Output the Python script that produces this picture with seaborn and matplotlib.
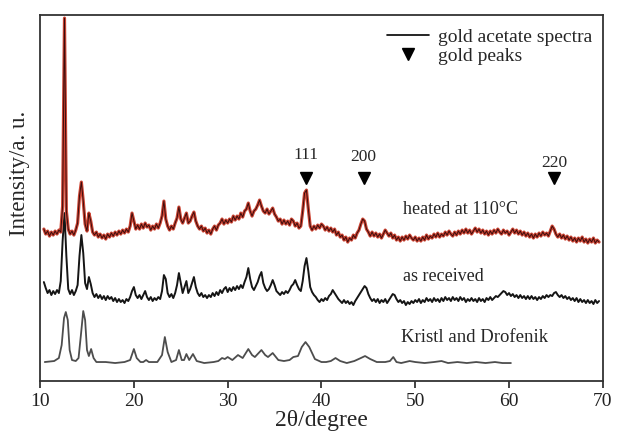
import numpy as np
import pandas as pd
import matplotlib
matplotlib.use("Agg")
import matplotlib.pyplot as plt
from matplotlib.lines import Line2D
import seaborn as sns

sns.set_style("ticks")
plt.rcParams['font.family'] = ['Liberation Serif', 'DejaVu Serif']
plt.rcParams['mathtext.fontset'] = 'stix'

# scan grid of the two measured patterns, 0.2 degree step
two_theta = np.linspace(10.4, 69.6, 297)

# heated at 110 C (one row = 2 degrees)
heated = [
    152, 147, 150, 145, 149, 146, 150, 147, 151, 149,
    175, 363, 170, 152, 147, 150, 146, 151, 158, 185,
    199, 180, 157, 150, 168, 160, 149, 146, 149, 144,
    147, 143, 146, 142, 147, 144, 148, 145, 149, 146,
    150, 147, 151, 148, 152, 149, 155, 168, 160, 152,
    156, 152, 157, 153, 158, 154, 156, 151, 155, 152,
    157, 153, 158, 165, 180, 162, 155, 151, 155, 152,
    158, 163, 174, 162, 158, 163, 168, 158, 160, 165,
    169, 160, 155, 152, 155, 150, 153, 148, 151, 147,
    152, 155, 151, 156, 158, 162, 157, 161, 158, 162,
    159, 165, 161, 165, 162, 168, 164, 170, 172, 178,
    170, 165, 170, 172, 176, 181, 175, 170, 168, 172,
    167, 170, 173, 167, 164, 160, 162, 157, 161, 157,
    160, 156, 162, 160, 155, 158, 153, 155, 170, 188,
    191, 172, 155, 151, 155, 152, 156, 153, 157, 155,
    151, 154, 150, 153, 149, 152, 146, 149, 144, 146,
    141, 144, 139, 143, 141, 146, 143, 148, 151, 157,
    162, 160, 152, 149, 145, 149, 145, 148, 144, 147,
    143, 147, 151, 148, 145, 148, 143, 146, 141, 144,
    140, 144, 141, 145, 142, 146, 143, 141, 144, 140,
    143, 140, 144, 141, 146, 142, 145, 143, 147, 144,
    148, 144, 147, 145, 149, 146, 150, 147, 145, 149,
    146, 150, 147, 151, 148, 152, 148, 151, 147, 150,
    153, 149, 152, 148, 151, 147, 150, 146, 150, 147,
    151, 148, 152, 149, 147, 151, 148, 150, 146, 149,
    152, 148, 151, 147, 150, 146, 149, 145, 148, 144,
    147, 143, 147, 144, 148, 145, 149, 146, 148, 145,
    150, 155, 152, 147, 144, 147, 143, 146, 142, 145,
    141, 144, 140, 143, 139, 143, 140, 144, 139, 142,
    138, 142, 139, 143, 138, 141, 139,
]

# as received
received = [
    99, 93, 88, 91, 86, 90, 87, 91, 88, 100,
    140, 168, 125, 92, 87, 91, 86, 90, 96, 125,
    146, 128, 98, 92, 104, 97, 88, 84, 87, 83,
    86, 82, 85, 81, 85, 82, 84, 80, 83, 79,
    82, 79, 81, 78, 82, 80, 84, 90, 94, 86,
    83, 86, 82, 86, 90, 84, 81, 84, 80, 83,
    81, 84, 82, 90, 106, 102, 88, 84, 87, 83,
    88, 96, 108, 98, 88, 94, 100, 88, 92, 98,
    104, 94, 88, 85, 88, 84, 86, 83, 86, 84,
    88, 85, 89, 86, 91, 88, 92, 94, 89, 93,
    90, 94, 91, 95, 92, 96, 93, 99, 104, 113,
    102, 94, 91, 95, 99, 105, 109, 98, 93, 90,
    92, 96, 101, 96, 90, 88, 86, 89, 87, 90,
    88, 91, 95, 97, 101, 96, 92, 90, 100, 115,
    123, 110, 94, 89, 86, 84, 81, 79, 82, 80,
    83, 81, 85, 87, 91, 88, 85, 82, 80, 78,
    81, 78, 80, 77, 79, 76, 80, 83, 86, 89,
    92, 95, 93, 87, 83, 80, 82, 79, 82, 78,
    81, 79, 82, 78, 81, 84, 87, 86, 82, 79,
    81, 78, 80, 76, 79, 77, 80, 78, 81, 79,
    82, 78, 81, 79, 83, 80, 82, 79, 83, 80,
    82, 79, 83, 80, 84, 81, 83, 80, 84, 81,
    83, 80, 84, 81, 83, 79, 82, 80, 83, 80,
    82, 79, 83, 80, 82, 79, 83, 81, 84, 81,
    83, 85, 84, 86, 88, 90, 89, 86, 88, 85,
    87, 84, 86, 83, 86, 83, 85, 82, 85, 82,
    85, 82, 84, 81, 84, 82, 85, 83, 86, 84,
    86, 85, 88, 89, 86, 84, 86, 83, 85, 82,
    84, 81, 83, 80, 83, 79, 82, 79, 81, 78,
    81, 78, 80, 77, 81, 78, 80,
]

# reference pattern (Kristl and Drofenik)
kd_theta = [10.5, 11.5, 12.0, 12.3, 12.55, 12.74, 12.95, 13.15, 13.4, 13.8,
            14.1, 14.35, 14.6, 14.8, 15.0, 15.2, 15.44, 15.7, 16.0, 17.0,
            18.0, 19.0, 19.6, 20.0, 20.3, 20.7, 21.0, 21.3, 21.6, 22.5,
            23.0, 23.3, 23.6, 24.0, 24.5, 24.8, 25.1, 25.35, 25.6, 25.9,
            26.3, 26.7, 27.5, 28.5, 29.0, 29.4, 29.7, 30.0, 30.5, 31.1,
            31.6, 32.2, 32.6, 32.9, 33.3, 33.6, 34.0, 34.3, 34.8, 35.4,
            36.0, 36.6, 37.0, 37.5, 37.9, 38.3, 38.7, 39.3, 40.0, 40.5,
            41.0, 41.5, 42.0, 42.7, 43.5, 44.2, 44.65, 45.2, 45.9, 46.8,
            47.3, 47.66, 48.0, 48.5, 49.4, 50.0, 51.0, 52.0, 52.8, 53.5,
            54.5, 55.5, 56.5, 57.5, 58.5, 59.3, 60.2]
kd_int = [19, 20, 23, 36, 63, 69, 61, 31, 21, 20,
          23, 46, 70, 61, 31, 25, 32, 23, 19, 19,
          18, 19, 21, 32, 23, 19, 19, 21, 19, 19,
          26, 44, 29, 19, 21, 31, 21, 21, 27, 21,
          27, 20, 18, 19, 20, 23, 22, 24, 21, 26,
          23, 32, 26, 24, 28, 31, 26, 24, 28, 21,
          20, 21, 24, 25, 34, 39, 34, 22, 19, 19,
          20, 23, 20, 18, 20, 23, 25, 22, 19, 19,
          20, 24, 19, 18, 20, 19, 18, 19, 20, 18,
          19, 18, 19, 18, 19, 18, 18]

peak_pos = [38.35, 44.5, 64.8]
peak_labels = ['111', '200', '220']
peak_label_y = [226, 224, 218]

fig, ax = plt.subplots(figsize=(6.17, 4.32), dpi=100)
fig.subplots_adjust(left=0.065, right=0.977, bottom=0.118, top=0.965)

sns.lineplot(x=kd_theta, y=kd_int, ax=ax, color='#4d4d4d', lw=1.3,
             sort=False, estimator=None)
sns.lineplot(x=two_theta, y=received, ax=ax, color='#151515', lw=1.4,
             sort=False, estimator=None)
sns.lineplot(x=two_theta, y=heated, ax=ax, color='#cc4433', lw=2.3,
             sort=False, estimator=None)
sns.lineplot(x=two_theta, y=heated, ax=ax, color='#3a0c0c', lw=0.7,
             sort=False, estimator=None)

ax.plot(peak_pos, [203] * len(peak_pos), 'v', color='black', ms=9, ls='none')
for p, lab, ly in zip(peak_pos, peak_labels, peak_label_y):
    ax.text(p, ly, lab, ha='center', va='center', fontsize=12.5)

ax.text(48.7, 172, 'heated at 110°C', ha='left', va='center', fontsize=13)
ax.text(48.7, 105, 'as received', ha='left', va='center', fontsize=13)
ax.text(48.5, 44, 'Kristl and Drofenik', ha='left', va='center', fontsize=13.5)

handles = [Line2D([], [], color='black', lw=1.2),
           Line2D([], [], color='black', marker='v', ls='none', ms=9)]
ax.legend(handles, ['gold acetate spectra', 'gold peaks'], loc='upper left',
          bbox_to_anchor=(0.595, 0.996), frameon=False, fontsize=14,
          handlelength=2.2, handletextpad=0.45, labelspacing=0.06,
          borderaxespad=0.2)

ax.set_xlim(10, 70)
ax.set_ylim(0, 366)
ax.set_xticks([10, 20, 30, 40, 50, 60, 70])
ax.set_yticks([])
ax.tick_params(axis='x', direction='out', length=5, width=1.2, labelsize=14,
               colors='#222222')
for s in ax.spines.values():
    s.set_visible(True)
    s.set_color('#333333')
    s.set_linewidth(1.3)
ax.set_xlabel('2θ/degree', fontsize=17, labelpad=0)
ax.set_ylabel('Intensity/a. u.', fontsize=16.5)
ax.yaxis.set_label_coords(-0.018, 0.568)

fig.savefig('out.png', dpi=100)
